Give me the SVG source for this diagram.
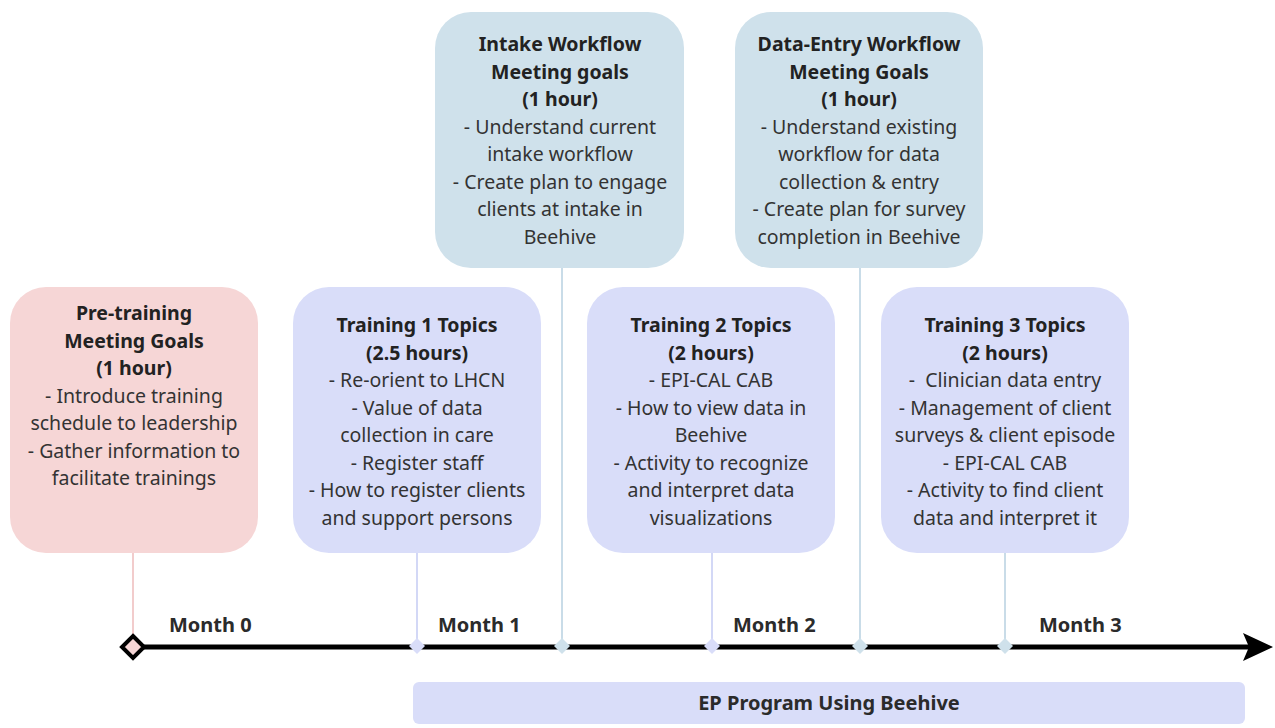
<svg xmlns="http://www.w3.org/2000/svg" width="1275" height="728" viewBox="0 0 1275 728">
<style>
.t{font-family:"Noto Sans","Open Sans","Liberation Sans",sans-serif;font-size:19.5px;text-anchor:middle;fill:#333}
.b{font-weight:bold;fill:#222}
.m{font-family:"Noto Sans","Open Sans","Liberation Sans",sans-serif;font-size:20px;font-weight:bold;fill:#2b2b2b}
.pink{fill:#f6d6d6}
.lav{fill:#d9ddf9}
.blu{fill:#cfe1eb}
</style>
<rect width="1275" height="728" fill="#fff"/>
<g id="connectors">
<line x1="133" y1="553" x2="133" y2="640" stroke="#f2cccc" stroke-width="2"/>
<line x1="417" y1="553" x2="417" y2="641" stroke="#d3d8f6" stroke-width="2"/>
<line x1="562" y1="268" x2="562" y2="641" stroke="#c9dce8" stroke-width="2"/>
<line x1="712" y1="553" x2="712" y2="641" stroke="#d3d8f6" stroke-width="2"/>
<line x1="860" y1="268" x2="860" y2="641" stroke="#c9dce8" stroke-width="2"/>
<line x1="1005" y1="553" x2="1005" y2="641" stroke="#c9dce8" stroke-width="2"/>
</g>
<g id="timeline">
<line x1="140" y1="647" x2="1250" y2="647" stroke="#000" stroke-width="5"/>
<polygon points="1243,633 1273,647 1243,661 1249,647" fill="#000"/>
<polygon points="133,636 144,647 133,658 122,647" fill="#f6d6d6" stroke="#000" stroke-width="4" stroke-linejoin="miter"/>
<polygon points="417,638 425,646 417,654 409,646" class="lav"/>
<polygon points="562,638 570,646 562,654 554,646" class="blu"/>
<polygon points="712,638 720,646 712,654 704,646" class="lav"/>
<polygon points="860,638 868,646 860,654 852,646" class="blu"/>
<polygon points="1005,638 1013,646 1005,654 997,646" class="blu"/>
<text class="m" x="169" y="632">Month 0</text>
<text class="m" x="438" y="632">Month 1</text>
<text class="m" x="733" y="632">Month 2</text>
<text class="m" x="1039" y="632">Month 3</text>
</g>
<g id="pretraining">
<rect x="10" y="287" width="248" height="266" rx="36" class="pink"/>
<text class="t b" x="134" y="320">Pre-training</text>
<text class="t b" x="134" y="347.5">Meeting Goals</text>
<text class="t b" x="134" y="375">(1 hour)</text>
<text class="t" x="134" y="402.5">- Introduce training</text>
<text class="t" x="134" y="430">schedule to leadership</text>
<text class="t" x="134" y="457.5">- Gather information to</text>
<text class="t" x="134" y="485">facilitate trainings</text>
</g>
<g id="training1">
<rect x="293" y="287" width="248" height="266" rx="36" class="lav"/>
<text class="t b" x="417" y="332">Training 1 Topics</text>
<text class="t b" x="417" y="359.5">(2.5 hours)</text>
<text class="t" x="417" y="387">- Re-orient to LHCN</text>
<text class="t" x="417" y="414.5">- Value of data</text>
<text class="t" x="417" y="442">collection in care</text>
<text class="t" x="417" y="469.5">- Register staff</text>
<text class="t" x="417" y="497">- How to register clients</text>
<text class="t" x="417" y="524.5">and support persons</text>
</g>
<g id="training2">
<rect x="587" y="287" width="248" height="266" rx="36" class="lav"/>
<text class="t b" x="711" y="332">Training 2 Topics</text>
<text class="t b" x="711" y="359.5">(2 hours)</text>
<text class="t" x="711" y="387">- EPI-CAL CAB</text>
<text class="t" x="711" y="414.5">- How to view data in</text>
<text class="t" x="711" y="442">Beehive</text>
<text class="t" x="711" y="469.5">- Activity to recognize</text>
<text class="t" x="711" y="497">and interpret data</text>
<text class="t" x="711" y="524.5">visualizations</text>
</g>
<g id="training3">
<rect x="881" y="287" width="248" height="266" rx="36" class="lav"/>
<text class="t b" x="1005" y="332">Training 3 Topics</text>
<text class="t b" x="1005" y="359.5">(2 hours)</text>
<text class="t" x="1005" y="387" xml:space="preserve">-  Clinician data entry</text>
<text class="t" x="1005" y="414.5">- Management of client</text>
<text class="t" x="1005" y="442">surveys &amp; client episode</text>
<text class="t" x="1005" y="469.5">- EPI-CAL CAB</text>
<text class="t" x="1005" y="497">- Activity to find client</text>
<text class="t" x="1005" y="524.5">data and interpret it</text>
</g>
<g id="intake">
<rect x="435" y="12" width="249" height="256" rx="36" class="blu"/>
<text class="t b" x="560" y="51">Intake Workflow</text>
<text class="t b" x="560" y="78.5">Meeting goals</text>
<text class="t b" x="560" y="106">(1 hour)</text>
<text class="t" x="560" y="133.5">- Understand current</text>
<text class="t" x="560" y="161">intake workflow</text>
<text class="t" x="560" y="188.5">- Create plan to engage</text>
<text class="t" x="560" y="216">clients at intake in</text>
<text class="t" x="560" y="243.5">Beehive</text>
</g>
<g id="dataentry">
<rect x="735" y="12" width="248" height="256" rx="36" class="blu"/>
<text class="t b" x="859" y="51">Data-Entry Workflow</text>
<text class="t b" x="859" y="78.5">Meeting Goals</text>
<text class="t b" x="859" y="106">(1 hour)</text>
<text class="t" x="859" y="133.5">- Understand existing</text>
<text class="t" x="859" y="161">workflow for data</text>
<text class="t" x="859" y="188.5">collection &amp; entry</text>
<text class="t" x="859" y="216">- Create plan for survey</text>
<text class="t" x="859" y="243.5">completion in Beehive</text>
</g>
<g id="program">
<rect x="413" y="682" width="832" height="42" rx="6" class="lav"/>
<text class="m" x="829" y="710" text-anchor="middle">EP Program Using Beehive</text>
</g>
</svg>
